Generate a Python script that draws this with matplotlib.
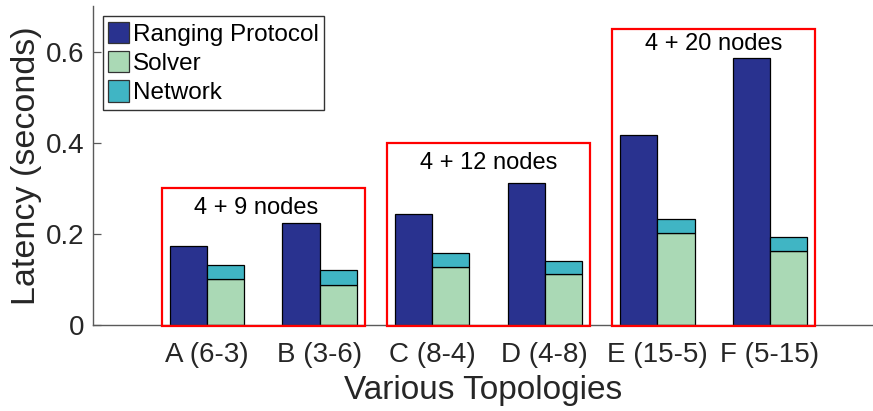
import matplotlib
matplotlib.use("Agg")
import matplotlib.pyplot as plt
from matplotlib.patches import Rectangle
import numpy as np

plt.rcParams['font.family'] = ['Liberation Sans', 'DejaVu Sans']

# Topologies and per-component latency (seconds)
topologies = ["A (6-3)", "B (3-6)", "C (8-4)", "D (4-8)", "E (15-5)", "F (5-15)"]
ranging = [0.174, 0.225, 0.244, 0.311, 0.417, 0.586]
solver = [0.101, 0.089, 0.127, 0.111, 0.203, 0.163]
network = [0.031, 0.032, 0.031, 0.030, 0.030, 0.030]

# Node-count groups: (first topology index, last topology index, box height, label)
groups = [(0, 1, 0.30, "4 + 9 nodes"),
          (2, 3, 0.40, "4 + 12 nodes"),
          (4, 5, 0.65, "4 + 20 nodes")]
group_label_y = [0.257, 0.356, 0.617]
group_label_dx = [-0.06, 0.0, 0.0]

c_rng = "#29328F"
c_sol = "#AAD9B5"
c_net = "#40B5C4"
spine_col = "#5a5a5a"

fig = plt.figure(figsize=(8.73, 4.11), dpi=100)
ax = fig.add_axes([93 / 873, 86 / 411, 780 / 873, 318.5 / 411])

x = np.arange(1, len(topologies) + 1)
w = 0.33

ax.bar(x - w / 2, ranging, w, color=c_rng, edgecolor="black", linewidth=0.9,
       label="Ranging Protocol", zorder=2)
ax.bar(x + w / 2, solver, w, color=c_sol, edgecolor="black", linewidth=0.9,
       label="Solver", zorder=2)
ax.bar(x + w / 2, network, w, bottom=solver, color=c_net, edgecolor="black",
       linewidth=0.9, label="Network", zorder=2)

for (i0, i1, top, label), ly, dx in zip(groups, group_label_y, group_label_dx):
    x0 = x[i0] - 0.4
    x1 = x[i1] + 0.4
    ax.add_patch(Rectangle((x0, -0.003), x1 - x0, top + 0.003, fill=False,
                           edgecolor="#ff0000", linewidth=1.6, zorder=5,
                           clip_on=False))
    ax.text((x0 + x1) / 2 + dx, ly, label, ha="center", va="center",
            fontsize=17, color="black", zorder=6)

ax.set_xlim(-0.012, 6.915)
ax.set_ylim(0, 0.7)
ax.set_yticks([0, 0.2, 0.4, 0.6])
ax.set_yticklabels(["0", "0.2", "0.4", "0.6"])
ax.set_xticks(x)
ax.set_xticklabels(topologies)

ax.tick_params(axis="y", direction="in", length=6, width=0.9, color=spine_col,
               labelsize=20, labelcolor="#262626", pad=6)
ax.tick_params(axis="x", length=0, labelsize=20, labelcolor="#262626", pad=12)

for s in ["top", "right"]:
    ax.spines[s].set_visible(False)
for s in ["left", "bottom"]:
    ax.spines[s].set_color(spine_col)
    ax.spines[s].set_linewidth(1.0)

ax.set_xlabel("Various Topologies", fontsize=24, color="#262626", labelpad=5)
ax.set_ylabel("Latency (seconds)", fontsize=24.5, color="#262626", labelpad=3)

leg = ax.legend(loc="upper left", fontsize=17.5, frameon=True, fancybox=False,
                handlelength=0.85, handleheight=0.97, handletextpad=0.18,
                labelspacing=0.22, borderpad=0.22, borderaxespad=0.4)
leg.get_frame().set_edgecolor("#333333")
leg.get_frame().set_linewidth(1.0)
leg.get_frame().set_alpha(1)
for h in leg.legend_handles:
    h.set_edgecolor("#333333")

fig.savefig("out.png", dpi=100)
